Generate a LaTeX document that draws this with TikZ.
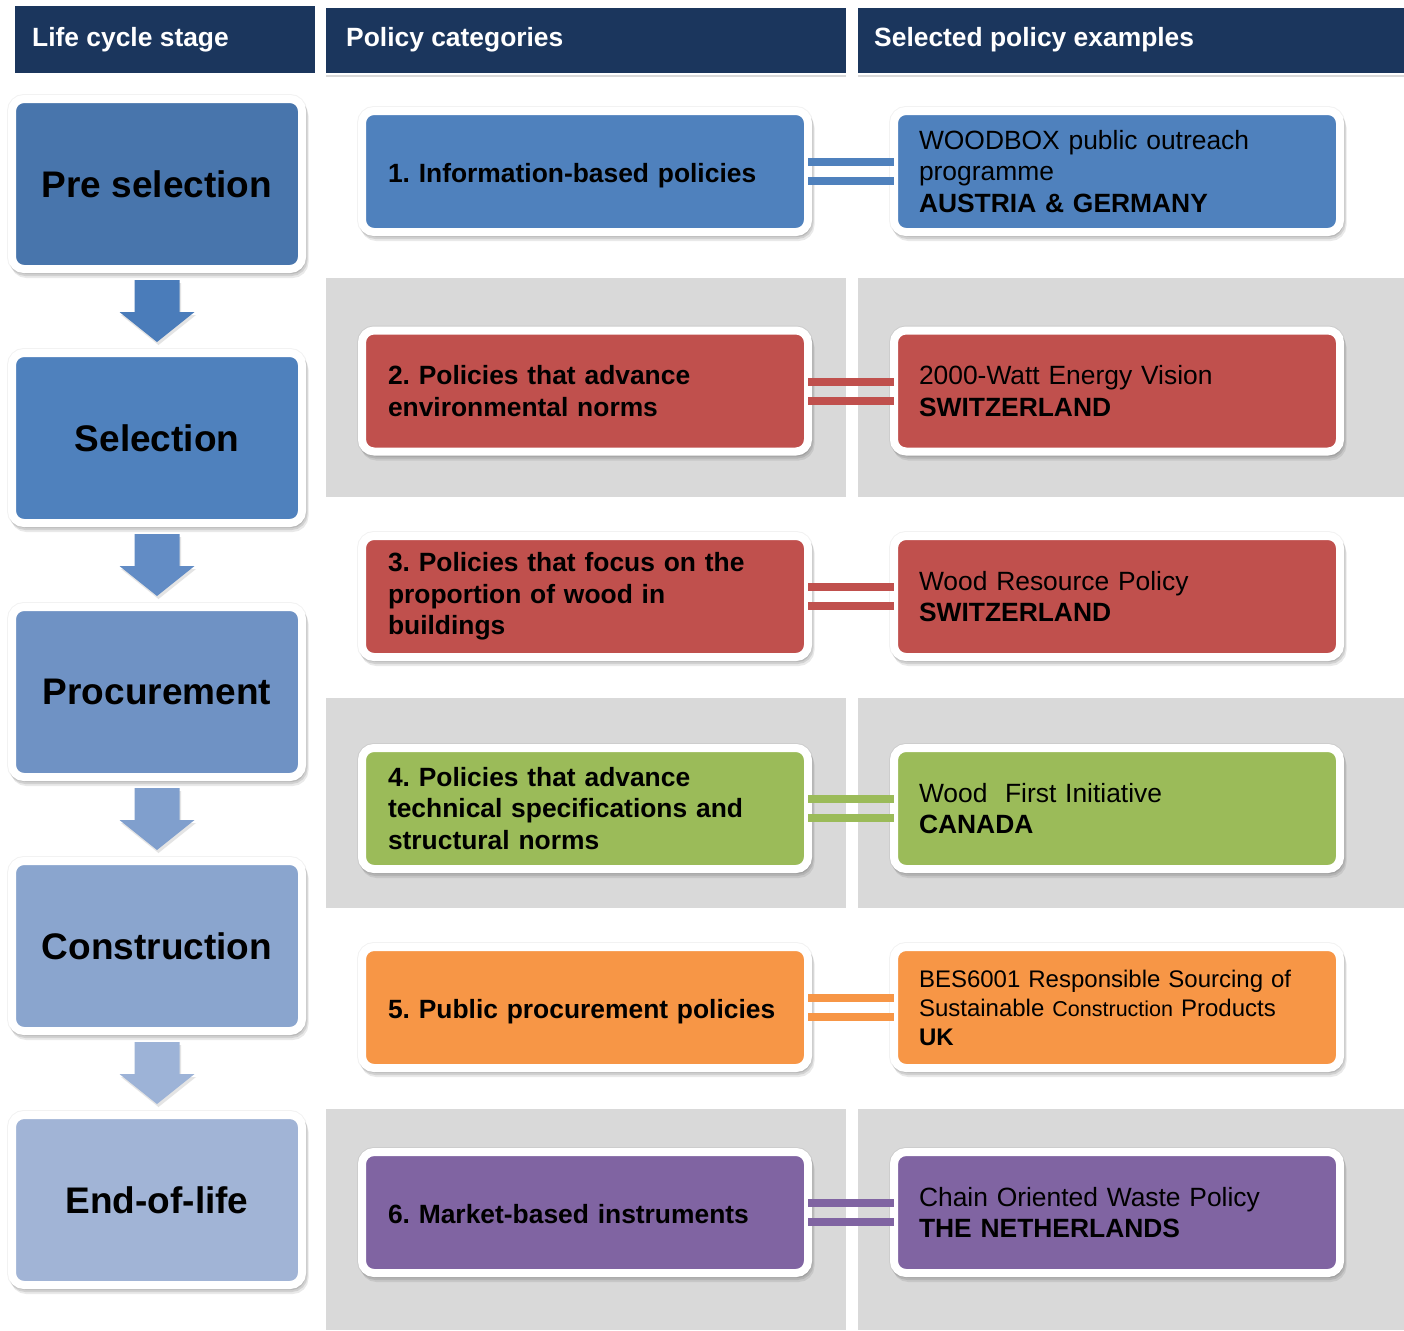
\documentclass[tikz,border=0pt]{standalone}
\usepackage{fontspec}
\setmainfont{Liberation Sans}
\frenchspacing
\usetikzlibrary{calc}
\definecolor{navy}{RGB}{27,54,93}
\definecolor{bandgray}{RGB}{217,217,217}
\definecolor{stA}{RGB}{72,117,172}
\definecolor{stB}{RGB}{79,129,189}
\definecolor{stC}{RGB}{111,146,196}
\definecolor{stD}{RGB}{138,165,206}
\definecolor{stE}{RGB}{161,180,214}
\definecolor{arA}{RGB}{74,124,186}
\definecolor{arB}{RGB}{98,140,197}
\definecolor{arC}{RGB}{128,159,205}
\definecolor{arD}{RGB}{157,179,215}
\definecolor{cblue}{RGB}{79,129,189}
\definecolor{cred}{RGB}{192,80,77}
\definecolor{cgreen}{RGB}{155,187,89}
\definecolor{corange}{RGB}{247,150,70}
\definecolor{cpurple}{RGB}{128,100,162}
\newcommand{\oneline}[1]{\raisebox{-10.5pt}[0pt][0pt]{#1}}
\begin{document}
\begin{tikzpicture}[x=1pt,y=-1pt,
  shadowed/.style={
      preaction={draw=black, fill=none, line width=10pt, opacity=0.05},
      preaction={draw=black!70, fill=black!70, opacity=0.12,
      transform canvas={xshift=2.5pt,yshift=-5pt}},
      preaction={draw=black!70, fill=black!70, opacity=0.15,
      transform canvas={xshift=1.5pt,yshift=-3pt}}},
  stagebox/.style={draw=white, line width=8pt, rounded corners=12pt,
      minimum width=290pt, minimum height=170pt, inner sep=0pt, outer sep=0pt,
      font=\fontsize{37}{44}\selectfont\bfseries, shadowed},
  polbox/.style={draw=white, line width=8pt, rounded corners=12pt,
      minimum height=121pt, inner xsep=26pt, inner ysep=0pt, outer sep=0pt,
      text width=394pt, align=left,
      font=\fontsize{26.4}{31.7}\selectfont\bfseries, shadowed},
  exbox/.style={draw=white, line width=8pt, rounded corners=12pt,
      minimum height=121pt, inner xsep=25pt, inner ysep=0pt, outer sep=0pt,
      text width=396pt, align=left,
      font=\fontsize{26.4}{31.7}\selectfont, shadowed},
  link/.style={line width=8pt,
      preaction={draw=black!70, opacity=0.15, transform canvas={yshift=-2pt}}},
  hdrtext/.style={text=white, anchor=base west, inner sep=0pt,
      font=\fontsize{26.4}{31.7}\selectfont\bfseries},
  blockarrow/.style={preaction={fill=black!70, opacity=0.15,
      transform canvas={xshift=1.5pt,yshift=-3pt}}}
]
\useasboundingbox (0,0) rectangle (1404,1330);
\fill[white] (0,0) rectangle (1404,1330);

% gray bands
\foreach \ya/\yb in {278/497, 698/908, 1109/1330}{
  \fill[bandgray] (326,\ya) rectangle (846,\yb);
  \fill[bandgray] (858,\ya) rectangle (1404,\yb);
}

% headers
\fill[navy] (15,6) rectangle (315,73);
\fill[navy] (326,8) rectangle (846,73);
\fill[navy] (858,8) rectangle (1404,73);
\draw[black!15, line width=1.5pt] (326,76) -- (846,76);
\draw[black!15, line width=1.5pt] (858,76) -- (1404,76);
\node[hdrtext] (h1) at (32,47) {Life cycle stage};
\node[hdrtext] (h2) at (346,46) {Policy categories};
\node[hdrtext] (h3) at (874,46) {Selected policy examples};

% life cycle stages
\node[stagebox, fill=stA] (s1) at (157,184) {Pre selection};
\node[stagebox, fill=stB] (s2) at (157,438) {Selection};
\node[stagebox, fill=stC] (s3) at (157,692) {Procurement};
\node[stagebox, fill=stD] (s4) at (157,946) {Construction};
\node[stagebox, fill=stE] (s5) at (157,1200) {End-of-life};

% block arrows
\foreach \a/\b/\c in {s1/s2/arA, s2/s3/arB, s3/s4/arC, s4/s5/arD}{
  \fill[\c, blockarrow]
    ($(\a.south)+(-22.5,11)$) -- ($(\a.south)+(22.5,11)$) --
    ($(\a.south)+(22.5,43)$) -- ($(\a.south)+(37.5,43)$) --
    ($(\b.north)+(0,-11)$) --
    ($(\a.south)+(-37.5,43)$) -- ($(\a.south)+(-22.5,43)$) -- cycle;
}

% policy categories
\node[polbox, fill=cblue] (m1) at (585,171.5) {\oneline{1. Information-based policies}};
\node[polbox, fill=cred] (m2) at (585,391) {2. Policies that advance\\environmental norms};
\node[polbox, fill=cred] (m3) at (585,596.5) {3. Policies that focus on the\\proportion of wood in\\buildings};
\node[polbox, fill=cgreen] (m4) at (585,808.5) {4. Policies that advance\\technical specifications and\\structural norms};
\node[polbox, fill=corange] (m5) at (585,1007.5) {\oneline{5. Public procurement policies}};
\node[polbox, fill=cpurple] (m6) at (585,1212.5) {\oneline{6. Market-based instruments}};

% policy examples
\node[exbox, fill=cblue] (r1) at (1117,171.5) {WOODBOX public outreach\\programme\\\textbf{AUSTRIA \& GERMANY}};
\node[exbox, fill=cred] (r2) at (1117,391) {2000-Watt Energy Vision\\\textbf{SWITZERLAND}};
\node[exbox, fill=cred] (r3) at (1117,596.5) {Wood Resource Policy\\\textbf{SWITZERLAND}};
\node[exbox, fill=cgreen] (r4) at (1117,808.5) {Wood\ \ First Initiative\\\textbf{CANADA}};
\node[exbox, fill=corange, font=\fontsize{24}{29}\selectfont] (r5) at (1117,1007.5)
  {BES6001 Responsible Sourcing of\\Sustainable {\fontsize{21.5}{29}\selectfont Construction} Products\\\textbf{UK}};
\node[exbox, fill=cpurple] (r6) at (1117,1212.5) {Chain Oriented Waste Policy\\\textbf{THE NETHERLANDS}};

% double connectors
\foreach \i/\c in {1/cblue, 2/cred, 3/cred, 4/cgreen, 5/corange, 6/cpurple}{
  \draw[link, draw=\c] ([yshift=9.5pt]m\i.east) -- ([yshift=9.5pt]r\i.west);
  \draw[link, draw=\c] ([yshift=-9.5pt]m\i.east) -- ([yshift=-9.5pt]r\i.west);
}
\end{tikzpicture}
\end{document}
